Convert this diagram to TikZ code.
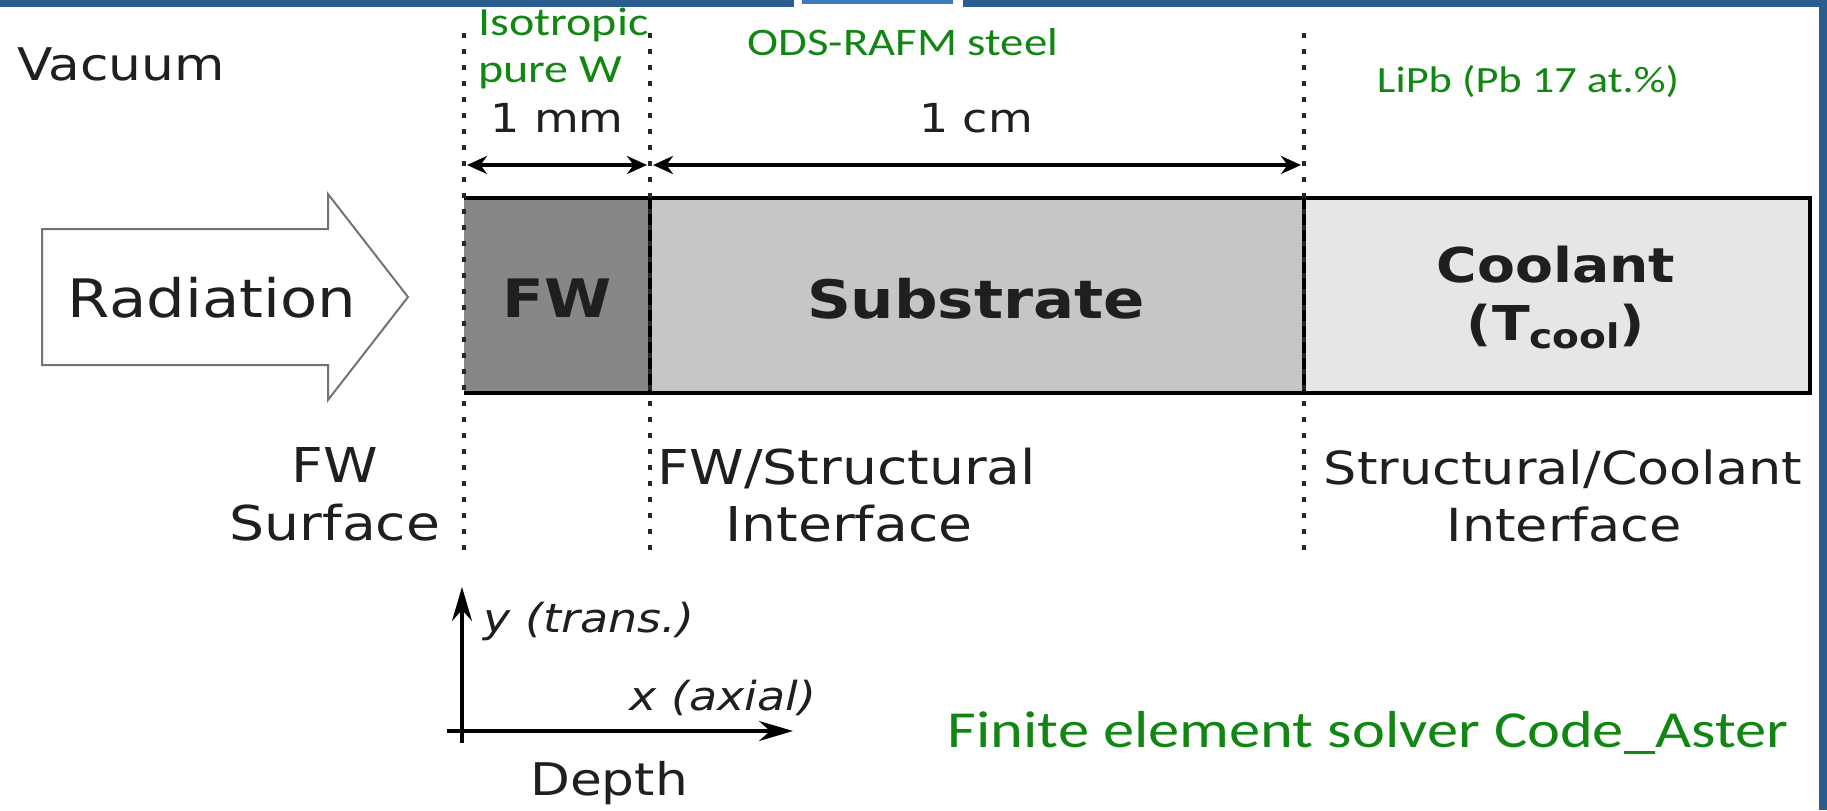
\documentclass[tikz,border=0pt]{standalone}
\usepackage{fontspec}
\setmainfont{DejaVu Sans}[FakeStretch=1.15]
\newfontfamily\calib{Carlito}[FakeStretch=1.2]
\usetikzlibrary{arrows.meta}
\definecolor{slide}{RGB}{42,92,142}
\definecolor{slidelt}{RGB}{62,122,186}
\definecolor{lblgreen}{RGB}{18,134,18}
\definecolor{fwgray}{RGB}{135,135,135}
\definecolor{subgray}{RGB}{198,198,198}
\definecolor{coolgray}{RGB}{230,230,230}
\tikzset{
  lbl/.style={text=black!88, inner sep=0pt, anchor=base},
  grn/.style={text=lblgreen, inner sep=0pt, anchor=base},
  wall/.style={line width=2.2pt},
  bounds/.style={black!85, line width=2.3pt, dash pattern=on 2.3pt off 5.7pt},
  dim/.style={line width=2pt, {Stealth[length=10pt,width=9pt]}-{Stealth[length=10pt,width=9pt]}},
  axis/.style={line width=1.6pt, -{Stealth[length=17pt,width=10pt]}},
  radarrow/.style={draw=black!55, fill=white, line width=1pt, line join=miter}
}

\begin{document}
\begin{tikzpicture}[x=0.5pt,y=-0.5pt]
  \useasboundingbox (0,0) rectangle (1827,810);
  % slide frame
  \fill[slide] (0,0) rectangle (794,7);
  \fill[slidelt] (802,0) rectangle (953,4);
  \fill[slide] (963,0) rectangle (1825,7);
  \fill[slide] (1819,0) rectangle (1827,810);

  % layers
  \fill[fwgray] (464,198) rectangle (650,393);
  \fill[subgray] (650,198) rectangle (1304,393);
  \fill[coolgray] (1304,198) rectangle (1810,393);
  \draw[wall] (464,198) -- (1810,198) -- (1810,393) -- (464,393);
  \draw[wall] (650,198) -- (650,393);
  \draw[wall] (1304,198) -- (1304,393);

  % interfaces
  \foreach \x/\n in {464/surf,650/fwint,1304/clint}
    \draw[bounds] (\x,33) coordinate (\n top) -- (\x,560) coordinate (\n bot);

  % thicknesses
  \coordinate (mmL) at (467,165);
  \coordinate (mmR) at (647,165);
  \coordinate (cmL) at (653,165);
  \coordinate (cmR) at (1301,165);
  \draw[dim] (mmL) -- (mmR);
  \draw[dim] (cmL) -- (cmR);
  \node[lbl, font=\fontsize{20}{24}\selectfont] (mm) at (557,132) {1 mm};
  \node[lbl, font=\fontsize{20}{24}\selectfont] (cm) at (976,132) {1 cm};

  % radiation
  \draw[radarrow] (42,229) -- (328,229) -- (328,194) -- (408,297) -- (328,400) -- (328,365) -- (42,365) -- cycle;
  \node[lbl, font=\fontsize{26.5}{30}\selectfont] (rad) at (212,317) {Radiation};
  \node[lbl, anchor=base west, font=\fontsize{22.5}{27}\selectfont] (vac) at (17,80) {Vacuum};

  % materials
  \node[grn, anchor=base west, font={\calib\fontsize{20}{24}\selectfont}] (iso) at (478,35) {Isotropic};
  \node[grn, anchor=base west, font={\calib\fontsize{20}{24}\selectfont}] (purew) at (478,82) {pure W};
  \node[grn, font={\calib\fontsize{19.5}{24}\selectfont}] (ods) at (903,55) {ODS-RAFM steel};
  \node[grn, font={\calib\fontsize{18.5}{22}\selectfont}] (lipb) at (1528,92) {LiPb (Pb 17 at.\%)};

  \node[lbl, font=\bfseries\fontsize{26.5}{30}\selectfont] (fw) at (557,317) {FW};
  \node[lbl, font=\bfseries\fontsize{26.5}{30}\selectfont] (sub) at (976,318) {Substrate};
  \node[lbl, font=\bfseries\fontsize{24}{28}\selectfont] (cool) at (1556,282) {Coolant};
  \node[lbl, font=\bfseries\fontsize{24}{28}\selectfont] (tcool) at (1556,340)
    {(T\raisebox{-4pt}{\fontsize{17}{20}\selectfont cool})};

  % interface names
  \node[lbl, font=\fontsize{24}{28}\selectfont] (surf1) at (335,482) {FW};
  \node[lbl, font=\fontsize{24}{28}\selectfont] (surf2) at (335,540) {Surface};
  \node[lbl, font=\fontsize{24}{28}\selectfont] (fwint1) at (847,484) {FW/Structural};
  \node[lbl, font=\fontsize{24}{28}\selectfont] (fwint2) at (849,541) {Interface};
  \node[lbl, font=\fontsize{22.8}{27}\selectfont] (clint1) at (1563,484) {Structural/Coolant};
  \node[lbl, font=\fontsize{22.8}{27}\selectfont] (clint2) at (1564,541) {Interface};

  % axes
  \coordinate (ybot) at (462,743);
  \coordinate (ytip) at (462,587);
  \coordinate (xleft) at (447,731);
  \coordinate (xtip) at (793,731);
  \draw[axis] (ybot) -- (ytip);
  \draw[axis] (xleft) -- (xtip);
  \node[lbl, anchor=base west, font=\itshape\fontsize{20}{24}\selectfont] (ylab) at (483,632) {y (trans.)};
  \node[lbl, anchor=base east, font=\itshape\fontsize{20}{24}\selectfont] (xlab) at (817,710) {x (axial)};
  \node[lbl, font=\fontsize{22.5}{27}\selectfont] (depth) at (609,795) {Depth};

  \node[grn, font={\calib\fontsize{26}{30}\selectfont}] (solver) at (1368,747) {Finite element solver Code\_Aster};
\end{tikzpicture}
\end{document}
